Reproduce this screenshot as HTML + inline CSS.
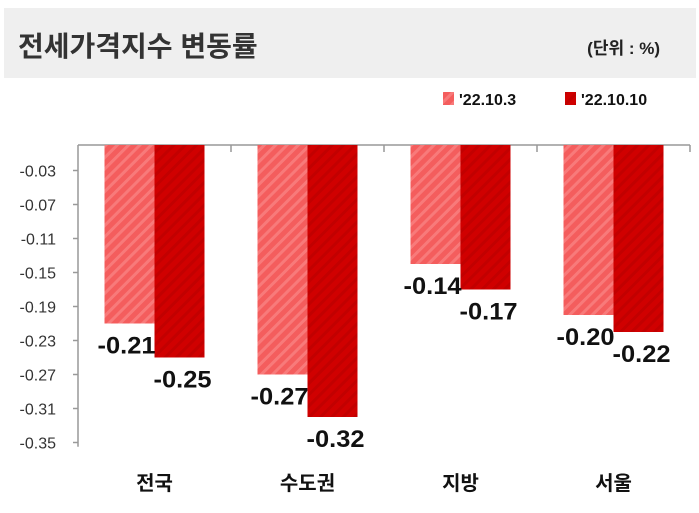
<!DOCTYPE html>
<html><head><meta charset="utf-8"><style>
body{margin:0;background:#fff;width:699px;height:508px;overflow:hidden;font-family:"Liberation Sans","Noto Sans CJK KR",sans-serif}
</style></head><body>
<svg width="699" height="508" xmlns="http://www.w3.org/2000/svg">
<defs>
<pattern id="hl" patternUnits="userSpaceOnUse" width="8" height="8" patternTransform="rotate(45)"><rect width="8" height="8" fill="#f45d5d"/><rect width="3" height="8" fill="#f87a7a"/></pattern>
<pattern id="hd" patternUnits="userSpaceOnUse" width="8" height="8" patternTransform="rotate(45)"><rect width="8" height="8" fill="#d00000"/><rect width="3" height="8" fill="#c20000"/></pattern>
</defs>
<rect x="4" y="8" width="692" height="70" fill="#efefef"/>
<text x="18" y="56" font-size="28" font-weight="bold" fill="#333">전세가격지수 변동률</text>
<text x="660" y="54" font-size="17" font-weight="bold" fill="#222" text-anchor="end">(단위 : %)</text>
<g>
<rect x="443" y="92" width="11" height="13" fill="url(#hl)"/>
<text x="459" y="105" font-size="16" font-weight="bold" fill="#111">'22.10.3</text>
<rect x="565" y="92" width="11" height="13" fill="url(#hd)"/>
<text x="581" y="105" font-size="16" font-weight="bold" fill="#111">'22.10.10</text>
</g>
<g id="plot"></g>
</svg>
<script>
const categories=["전국","수도권","지방","서울"];
const series1=[-0.21,-0.27,-0.14,-0.20];
const series2=[-0.25,-0.32,-0.17,-0.22];
const labels1=["-0.21","-0.27","-0.14","-0.20"];
const labels2=["-0.25","-0.32","-0.17","-0.22"];
const yTicks=[-0.03,-0.07,-0.11,-0.15,-0.19,-0.23,-0.27,-0.31,-0.35];
const X0=78,X1=690,Y0=145,K=850,BW=50;
const y=v=>Y0-v*K;
const bandW=(X1-X0)/categories.length;
const cx=i=>X0+bandW*(i+0.5);
const NS="http://www.w3.org/2000/svg";
const g=document.getElementById('plot');
function mk(t,a,txt){const e=document.createElementNS(NS,t);for(const k in a)e.setAttribute(k,a[k]);if(txt!==undefined)e.textContent=txt;g.appendChild(e);return e;}
let e;
e=mk('line',{x1:X0,y1:Y0,x2:X0,y2:y(-0.355),stroke:'#999','stroke-width':1.5});


e=mk('line',{x1:X0,y1:Y0,x2:X1,y2:Y0,stroke:'#999','stroke-width':1.5});


yTicks.forEach(t=>{
 e=mk('line',{x1:X0-5,y1:y(t),x2:X0,y2:y(t),stroke:'#999','stroke-width':1.5});
 
 
 e=mk('text',{x:X0-22,y:y(t)+6,'font-size':16,'text-anchor':'end',fill:'#333'},t.toFixed(2));
 
 
});
for(let i=1;i<=categories.length;i++){
 e=mk('line',{x1:X0+bandW*i,y1:Y0,x2:X0+bandW*i,y2:Y0+7,stroke:'#999','stroke-width':1.5});
 
 
}
categories.forEach((c,i)=>{
 const c0=cx(i);
 e=mk('rect',{x:c0-BW,y:Y0,width:BW,height:y(series1[i])-Y0,fill:'url(#hl)'});
 
 
 e=mk('rect',{x:c0,y:Y0,width:BW,height:y(series2[i])-Y0,fill:'url(#hd)'});
 
 
 e=mk('text',{x:c0-BW/2-3,y:y(series1[i])+30,'font-size':24,'font-weight':'bold','text-anchor':'middle',fill:'#111',textLength:58,lengthAdjust:'spacingAndGlyphs'},labels1[i]);
 
 
 e=mk('text',{x:c0+BW/2+3,y:y(series2[i])+30,'font-size':24,'font-weight':'bold','text-anchor':'middle',fill:'#111',textLength:58,lengthAdjust:'spacingAndGlyphs'},labels2[i]);
 
 
 e=mk('text',{x:c0,y:490,'font-size':20,'font-weight':'bold','text-anchor':'middle',fill:'#111'},c);
 
 
});
</script>
</body></html>
